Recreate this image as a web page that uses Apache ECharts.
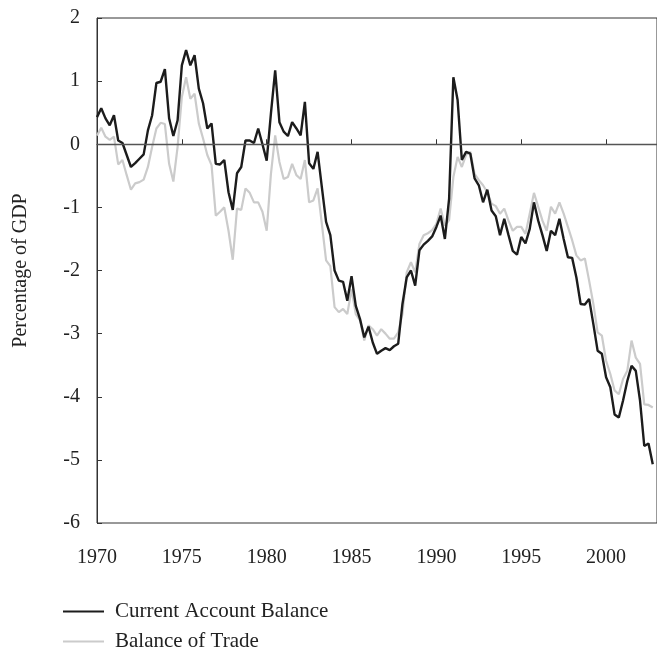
<!DOCTYPE html>
<html>
<head>
<meta charset="utf-8">
<script src="https://cdn.jsdelivr.net/npm/echarts@6/dist/echarts.min.js"></script>
<style>
  html, body { margin: 0; padding: 0; background: #fff; }
  #chart { width: 657px; height: 650px; }
</style>
</head>
<body>
<div id="chart"></div>
<script>
// quarterly data, 1970Q1 .. 2002Q4
var startYear = 1970;
var currentAccount = [
  0.43, 0.57, 0.41, 0.30, 0.46, 0.06, 0.02, -0.17, -0.36, -0.30, -0.23, -0.16,
  0.22, 0.46, 0.97, 0.99, 1.19, 0.41, 0.13, 0.38, 1.25, 1.49, 1.25, 1.41,
  0.88, 0.65, 0.25, 0.33, -0.31, -0.32, -0.25, -0.76, -1.04, -0.46, -0.36, 0.06,
  0.06, 0.02, 0.25, 0.00, -0.26, 0.49, 1.17, 0.35, 0.20, 0.13, 0.35, 0.25,
  0.14, 0.67, -0.30, -0.39, -0.12, -0.68, -1.23, -1.44, -2.00, -2.16, -2.18, -2.48,
  -2.09, -2.56, -2.77, -3.06, -2.89, -3.14, -3.32, -3.27, -3.23, -3.26, -3.20, -3.16,
  -2.53, -2.11, -2.00, -2.24, -1.68, -1.59, -1.53, -1.46, -1.31, -1.13, -1.50, -0.86,
  1.06, 0.70, -0.25, -0.12, -0.15, -0.54, -0.65, -0.92, -0.72, -1.05, -1.14, -1.44,
  -1.18, -1.44, -1.69, -1.75, -1.47, -1.57, -1.34, -0.92, -1.21, -1.44, -1.69, -1.37,
  -1.44, -1.18, -1.50, -1.79, -1.80, -2.11, -2.53, -2.54, -2.45, -2.85, -3.27, -3.32,
  -3.69, -3.85, -4.28, -4.33, -4.06, -3.75, -3.51, -3.59, -4.06, -4.78, -4.74, -5.07
];
var balanceOfTrade = [
  0.14, 0.26, 0.12, 0.07, 0.12, -0.32, -0.25, -0.49, -0.72, -0.62, -0.60, -0.56,
  -0.36, -0.04, 0.25, 0.34, 0.32, -0.31, -0.59, -0.04, 0.75, 1.06, 0.72, 0.80,
  0.33, 0.09, -0.17, -0.33, -1.13, -1.07, -1.00, -1.37, -1.83, -1.02, -1.04, -0.70,
  -0.77, -0.92, -0.92, -1.07, -1.37, -0.47, 0.14, -0.28, -0.55, -0.52, -0.31, -0.49,
  -0.55, -0.25, -0.92, -0.89, -0.70, -1.26, -1.84, -1.93, -2.58, -2.66, -2.61, -2.69,
  -2.30, -2.69, -2.79, -3.11, -2.87, -2.93, -3.03, -2.93, -3.00, -3.08, -3.08, -2.98,
  -2.69, -2.03, -1.87, -2.03, -1.58, -1.44, -1.41, -1.36, -1.26, -1.02, -1.29, -1.20,
  -0.52, -0.20, -0.36, -0.17, -0.12, -0.47, -0.57, -0.65, -0.76, -0.94, -0.98, -1.10,
  -1.02, -1.21, -1.37, -1.31, -1.31, -1.42, -1.10, -0.77, -0.99, -1.21, -1.37, -0.99,
  -1.10, -0.92, -1.10, -1.31, -1.52, -1.76, -1.84, -1.81, -2.16, -2.53, -2.98, -3.03,
  -3.43, -3.64, -3.90, -3.96, -3.72, -3.59, -3.11, -3.38, -3.48, -4.12, -4.13, -4.17
];
var seriesNames = ["Current Account Balance", "Balance of Trade"];

function toPoints(values) {
  return values.map(function (v, i) {
    return [startYear + i / 4, v];
  });
}

var font = "'Liberation Serif', 'Times New Roman', serif";
var chart = echarts.init(document.getElementById("chart"));

chart.setOption({
  animation: false,
  textStyle: { fontFamily: font },
  grid: {
    left: 97,
    top: 18,
    right: -2,
    bottom: 127,
    show: true,
    borderColor: "#333",
    borderWidth: 1
  },
  legend: {
    data: seriesNames,
    orient: "vertical",
    left: 63,
    top: 601,
    height: 80,
    padding: 0,
    icon: "rect",
    itemWidth: 41,
    itemHeight: 2,
    itemGap: 9,
    textStyle: { fontFamily: font, fontSize: 21, color: "#222", padding: [0, 0, 0, 6] }
  },
  xAxis: {
    type: "value",
    min: 1970,
    max: 2003,
    interval: 5,
    axisLine: { lineStyle: { color: "#333", width: 1 } },
    axisTick: { inside: true, length: 5, lineStyle: { color: "#333" } },
    splitLine: { show: false },
    axisLabel: {
      margin: 25,
      fontSize: 20,
      color: "#222",
      fontFamily: font,
      showMaxLabel: false,
      formatter: function (v) { return v % 5 === 0 ? String(v) : ""; }
    }
  },
  yAxis: {
    type: "value",
    min: -6,
    max: 2,
    interval: 1,
    name: "Percentage of GDP",
    nameLocation: "middle",
    nameGap: 66,
    nameTextStyle: { fontSize: 20, color: "#222", fontFamily: font },
    axisLine: { show: true, lineStyle: { color: "#333", width: 1 } },
    axisTick: { show: true, inside: true, length: 5, lineStyle: { color: "#333" } },
    splitLine: { show: false },
    axisLabel: { margin: 17, fontSize: 20, color: "#222", fontFamily: font }
  },
  series: [
    {
      name: seriesNames[1],
      type: "line",
      data: toPoints(balanceOfTrade),
      showSymbol: false,
      lineStyle: { color: "#cbcbcb", width: 2.2 },
      itemStyle: { color: "#cbcbcb" },
      markLine: {
        silent: true,
        symbol: "none",
        label: { show: false },
        lineStyle: { color: "#555", width: 1.4, type: "solid" },
        data: [{ yAxis: 0 }]
      }
    },
    {
      name: seriesNames[0],
      type: "line",
      data: toPoints(currentAccount),
      showSymbol: false,
      lineStyle: { color: "#1c1c1c", width: 2.4 },
      itemStyle: { color: "#1c1c1c" }
    }
  ]
});
</script>
</body>
</html>
